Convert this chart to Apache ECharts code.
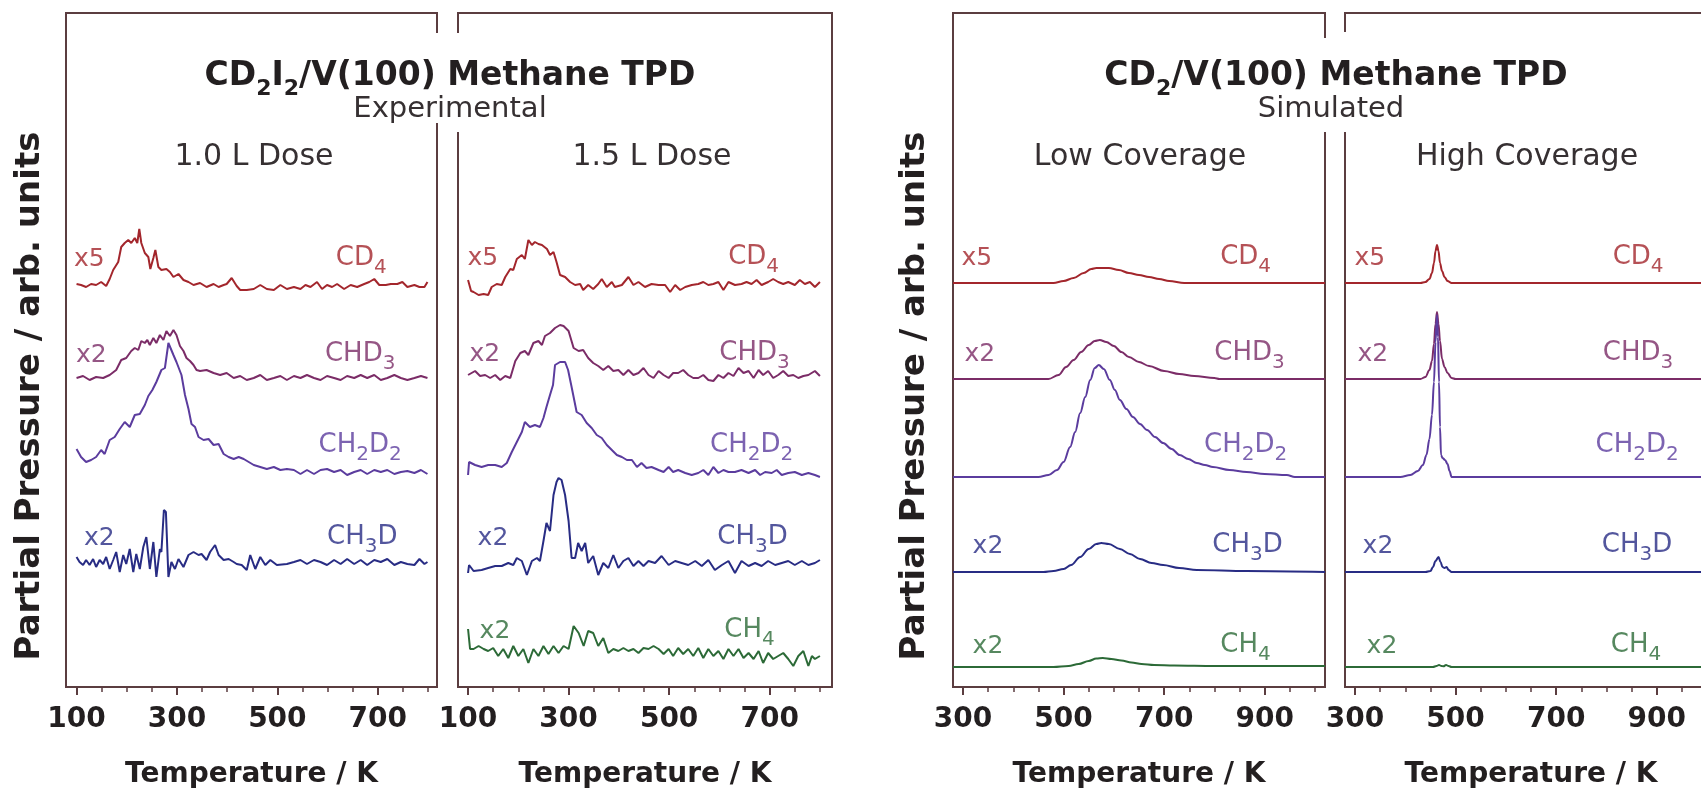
<!DOCTYPE html>
<html>
<head>
<meta charset="utf-8">
<script src="https://cdn.jsdelivr.net/npm/echarts@6/dist/echarts.min.js"></script>
<style>
  html, body { margin: 0; padding: 0; background: #fff; overflow: hidden; }
  #chart { width: 1701px; height: 791px; }
</style>
</head>
<body>
<div id="chart"></div>
<script>
// ---------------- data ----------------
// Species, in stacking order from top to bottom
const SPECIES = ['CD4', 'CHD3', 'CH2D2', 'CH3D', 'CH4'];
const SPECIES_TEXT = ['{m|CD}{s|4}', '{m|CHD}{s|3}', '{m|CH}{s|2}{m|D}{s|2}', '{m|CH}{s|3}{m|D}', '{m|CH}{s|4}'];
const SPECIES_COLORS = ['#a3262c', '#7b2c67', '#5b3c9e', '#282c84', '#2c6a37'];

// Temperature axes (K)
const EXP_LABEL_TICKS = [100, 300, 500, 700];
const EXP_MINOR_TICKS = [100, 150, 200, 250, 300, 350, 400, 450, 500, 550, 600, 650, 700, 750, 800];
const SIM_LABEL_TICKS = [300, 500, 700, 900];
const SIM_MINOR_TICKS = [300, 350, 400, 450, 500, 550, 600, 650, 700, 750, 800, 850, 900, 950, 1000];

// Vertical offsets of each trace (arb. units), per panel: CD4, CHD3, CH2D2, CH3D, CH4
const OFFSETS_1L   = [400, 309, 215, 125, null];
const OFFSETS_15L  = [400, 309, 212, 119, 31];
const OFFSETS_LOW  = [404, 308, 210, 115, 20];
const OFFSETS_HIGH = [404, 308, 210, 115, 20];

// Experimental, 1.0 L dose: [T (K), signal]
const EXP1_CD4 = [[100,3],[109,2],[119,0],[129,3],[139,2],[149,5],[159,1],[166,8],[173,17],[183,25],[189,40],[196,44],[203,47],[209,44],[216,49],[221,44],[225,58],[229,44],[236,34],[243,30],[247,18],[253,29],[257,37],[263,20],[269,17],[279,18],[286,15],[293,10],[303,13],[313,7],[323,5],[333,2],[346,4],[359,0],[373,3],[383,0],[393,2],[399,3],[409,9],[419,1],[426,-3],[439,-3],[453,-2],[466,2],[479,-2],[493,-3],[506,2],[519,-2],[533,0],[546,-2],[556,2],[566,0],[579,5],[589,-2],[599,2],[609,0],[619,3],[633,-2],[646,2],[659,0],[673,3],[683,5],[693,8],[703,2],[716,2],[726,3],[739,3],[749,5],[759,0],[773,2],[783,0],[793,0],[799,5]];
const EXP1_CHD3 = [[100,0],[113,2],[126,-2],[139,1],[153,0],[166,3],[179,8],[189,18],[199,20],[209,27],[216,30],[223,28],[229,37],[236,35],[241,38],[246,33],[253,40],[259,35],[266,43],[273,38],[279,47],[286,42],[293,48],[299,43],[306,32],[313,27],[319,20],[326,17],[333,13],[339,8],[346,7],[359,8],[373,5],[386,3],[399,5],[413,0],[426,2],[439,-2],[453,0],[466,3],[479,-2],[493,0],[506,2],[519,-2],[533,2],[546,0],[559,3],[573,0],[586,-2],[599,2],[613,0],[626,-2],[639,2],[653,0],[666,3],[679,0],[693,3],[706,-2],[719,0],[733,3],[746,0],[759,-2],[773,0],[786,2],[799,0]];
const EXP1_CH2D2 = [[100,23],[109,15],[119,10],[129,12],[139,15],[149,22],[156,18],[166,32],[176,35],[186,43],[196,50],[206,45],[216,57],[226,58],[236,67],[243,76],[251,82],[259,90],[269,102],[276,104],[283,129],[286,130],[293,117],[299,110],[309,97],[316,77],[323,63],[329,48],[336,45],[343,35],[353,32],[363,33],[373,27],[383,28],[393,18],[403,15],[413,13],[423,15],[433,13],[443,10],[453,7],[466,5],[479,3],[493,5],[506,2],[519,3],[533,2],[546,-2],[559,2],[573,-2],[586,2],[599,3],[613,0],[626,2],[639,-3],[653,0],[666,2],[679,-2],[693,2],[706,0],[719,2],[733,-2],[746,0],[759,1],[773,-1],[786,2],[799,-2]];
const EXP1_CH3D = [[100,5],[106,0],[113,-3],[119,2],[126,-3],[133,3],[139,-5],[146,2],[153,-2],[159,5],[166,-7],[173,2],[179,10],[186,-10],[193,7],[199,-2],[206,13],[213,-10],[219,8],[226,-7],[233,15],[239,25],[246,-7],[253,20],[259,-15],[266,13],[269,10],[274,52],[278,50],[283,-15],[289,0],[296,-7],[303,3],[313,-5],[323,7],[333,10],[343,7],[349,8],[359,2],[366,10],[376,17],[383,7],[393,2],[403,3],[413,0],[419,-2],[429,-3],[439,-8],[446,7],[456,-7],[466,5],[476,-3],[486,2],[499,-3],[519,-2],[533,0],[546,2],[559,-2],[573,2],[586,0],[599,-3],[613,2],[626,-2],[639,3],[653,-2],[666,2],[679,-3],[693,2],[706,0],[719,3],[733,-3],[746,0],[759,-2],[773,-3],[783,3],[793,-2],[799,0]];

// Experimental, 1.5 L dose
const EXP15_CD4 = [[100,7],[106,-4],[111,-5],[121,-8],[131,-7],[140,-8],[147,0],[157,3],[167,2],[174,10],[184,18],[190,17],[197,28],[207,32],[213,28],[220,47],[227,42],[233,45],[240,43],[247,42],[257,38],[263,32],[270,35],[276,25],[283,12],[293,10],[303,5],[313,2],[323,3],[329,-3],[339,2],[349,-2],[359,3],[366,8],[376,0],[386,5],[392,0],[406,2],[419,10],[429,2],[439,5],[452,0],[465,3],[479,2],[492,2],[502,-5],[512,2],[522,-3],[532,0],[545,2],[558,3],[568,5],[578,2],[588,3],[598,5],[608,-3],[618,5],[631,2],[644,3],[654,5],[664,3],[674,7],[684,2],[697,5],[707,8],[717,5],[727,3],[737,5],[750,2],[760,7],[770,3],[780,5],[790,0],[800,5]];
const EXP15_CHD3 = [[100,3],[114,7],[124,2],[134,3],[144,0],[154,3],[164,-2],[174,2],[184,0],[194,17],[204,25],[213,27],[220,23],[230,35],[240,37],[247,33],[253,42],[263,45],[273,50],[283,53],[290,52],[300,47],[310,30],[320,27],[329,28],[339,20],[349,15],[359,12],[369,8],[379,12],[389,7],[399,8],[409,3],[419,8],[429,3],[439,5],[449,10],[459,3],[469,0],[479,7],[489,3],[499,0],[508,5],[518,5],[528,8],[538,3],[548,0],[558,0],[568,3],[578,-2],[588,-3],[598,3],[608,0],[618,5],[628,2],[638,10],[648,5],[658,7],[668,0],[678,8],[687,3],[697,7],[707,0],[717,3],[727,7],[737,2],[747,3],[757,0],[767,2],[777,3],[790,7],[800,2]];
const EXP15_CH2D2 = [[100,0],[102,13],[114,10],[127,8],[140,10],[154,10],[167,8],[177,12],[187,23],[197,33],[207,43],[213,53],[223,48],[233,50],[243,48],[250,57],[256,68],[263,80],[269,90],[273,110],[283,113],[293,113],[299,105],[306,88],[316,63],[326,60],[336,52],[346,47],[356,40],[366,37],[376,30],[386,25],[396,20],[406,18],[416,15],[426,15],[436,8],[445,12],[455,7],[465,8],[479,5],[489,3],[499,8],[508,3],[518,5],[532,2],[545,0],[558,2],[568,5],[578,0],[588,8],[598,2],[608,5],[618,3],[631,3],[644,5],[658,2],[671,5],[681,0],[691,3],[704,2],[714,5],[724,0],[737,2],[750,3],[764,0],[777,2],[790,0],[800,-2]];
const EXP15_CH3D = [[100,-5],[102,3],[111,-3],[127,-2],[140,0],[154,2],[167,2],[180,5],[190,3],[197,10],[207,7],[217,-7],[227,7],[237,10],[243,7],[250,27],[256,45],[263,37],[270,73],[276,86],[280,90],[286,88],[293,73],[300,47],[306,10],[313,10],[319,25],[326,17],[333,25],[339,5],[349,12],[359,-7],[369,5],[379,0],[389,13],[399,0],[409,7],[419,10],[429,2],[439,7],[449,2],[459,7],[472,5],[485,12],[499,3],[512,7],[525,5],[538,3],[552,7],[565,2],[578,8],[591,-2],[605,3],[618,7],[631,-5],[644,7],[658,2],[671,5],[684,2],[697,7],[711,3],[724,5],[737,7],[750,3],[764,7],[777,3],[790,5],[800,8]];
const EXP15_CH4 = [[100,27],[104,7],[111,7],[121,10],[131,7],[140,5],[150,8],[160,0],[170,7],[180,-2],[190,10],[200,0],[210,7],[220,-7],[230,7],[240,0],[250,10],[260,2],[270,10],[280,3],[290,10],[300,7],[310,30],[320,23],[330,10],[339,25],[349,23],[359,10],[369,18],[379,3],[389,7],[399,5],[409,8],[419,5],[429,7],[439,3],[449,8],[459,7],[469,10],[479,7],[489,2],[499,7],[508,0],[518,8],[528,2],[538,7],[548,0],[558,8],[568,-2],[578,7],[588,0],[598,5],[608,-3],[618,7],[628,0],[638,7],[648,-2],[658,3],[668,-3],[678,5],[687,-7],[697,3],[707,-3],[717,0],[727,3],[737,-3],[747,-10],[757,0],[767,5],[777,-10],[784,0],[790,-3],[800,0]];

// Simulated, low coverage
const SIM_LOW_CD4 = [[280,0],[480,0],[500,2],[520,5],[540,10],[555,14],[565,15],[590,15],[610,13],[630,10],[650,8],[670,6],[690,4],[710,2],[740,0],[1020,0]];
const SIM_LOW_CHD3 = [[280,0],[470,0],[490,4],[505,12],[520,19],[535,27],[550,34],[562,38],[572,39],[585,37],[600,33],[615,27],[630,22],[650,17],[670,13],[700,8],[730,5],[760,3],[800,1],[810,0],[1020,0]];
const SIM_LOW_CH2D2 = [[280,0],[450,0],[470,2],[487,7],[500,15],[513,30],[523,45],[533,64],[543,80],[553,97],[562,109],[570,112],[580,108],[592,97],[602,87],[612,77],[625,68],[638,60],[652,53],[666,47],[682,40],[698,34],[715,28],[731,22],[748,18],[765,14],[781,12],[797,10],[830,7],[864,5],[900,3],[944,2],[960,0],[1020,0]];
const SIM_LOW_CH3D = [[280,0],[460,0],[480,1],[500,3],[515,7],[533,15],[550,23],[565,28],[575,29],[590,28],[612,23],[632,18],[652,13],[675,9],[698,7],[730,4],[765,2],[864,1],[1020,0]];
const SIM_LOW_CH4 = [[280,0],[480,0],[510,1],[530,3],[550,6],[565,8.5],[578,9],[595,8],[615,6.5],[635,4.5],[655,3],[680,2],[720,1.5],[800,1],[1020,1]];

// Simulated, high coverage
const SIM_HIGH_CD4 = [[280,0],[430,0],[440,1],[448,4],[453,10],[457,20],[460,32],[463,38],[466,32],[469,20],[473,12],[478,6],[484,2],[492,0],[1020,0]];
const SIM_HIGH_CHD3 = [[280,0],[430,0],[440,2],[448,9],[453,18],[457,35],[460,55],[463,67],[466,55],[469,38],[473,20],[478,12],[484,6],[492,1],[500,0],[1020,0]];
const SIM_HIGH_CH2D2 = [[280,0],[390,0],[410,2],[425,6],[435,12],[442,22],[448,38],[453,62],[457,95],[460,135],[463,162],[465,140],[467,95],[469,50],[471,22],[474,19],[479,17],[484,13],[488,6],[492,0],[1020,0]];
const SIM_HIGH_CH3D = [[280,0],[440,0],[450,1],[455,5],[460,11],[466,15],[470,10],[474,5],[478,4],[482,5],[486,2],[492,0],[1020,0]];
const SIM_HIGH_CH4 = [[280,0],[455,0],[462,1],[467,2],[472,1],[476,0.7],[481,2],[486,1],[492,0],[1020,0]];

// Trace annotations: [T (K), baseline height, text, species index, alignment]
const LABELS_1L = [
  [96, 419, '{x|x5}', 0, 'left'], [668, 419, SPECIES_TEXT[0], 0, 'center'],
  [100, 323, '{x|x2}', 1, 'left'], [666, 323, SPECIES_TEXT[1], 1, 'center'],
  [666, 232, SPECIES_TEXT[2], 2, 'center'],
  [116, 140, '{x|x2}', 3, 'left'], [670, 140, SPECIES_TEXT[3], 3, 'center']
];
const LABELS_15L = [
  [100, 420, '{x|x5}', 0, 'left'], [669, 420, SPECIES_TEXT[0], 0, 'center'],
  [104, 324, '{x|x2}', 1, 'left'], [671, 324, SPECIES_TEXT[1], 1, 'center'],
  [665, 232, SPECIES_TEXT[2], 2, 'center'],
  [120, 140, '{x|x2}', 3, 'left'], [667, 140, SPECIES_TEXT[3], 3, 'center'],
  [124, 47, '{x|x2}', 4, 'left'], [661, 47, SPECIES_TEXT[4], 4, 'center']
];
const LABELS_LOW = [
  [298, 420, '{x|x5}', 0, 'left'], [863, 420, SPECIES_TEXT[0], 0, 'center'],
  [304, 324, '{x|x2}', 1, 'left'], [871, 324, SPECIES_TEXT[1], 1, 'center'],
  [863, 232, SPECIES_TEXT[2], 2, 'center'],
  [320, 132, '{x|x2}', 3, 'left'], [867, 132, SPECIES_TEXT[3], 3, 'center'],
  [320, 32, '{x|x2}', 4, 'left'], [863, 32, SPECIES_TEXT[4], 4, 'center']
];
const LABELS_HIGH = [
  [300, 420, '{x|x5}', 0, 'left'], [864, 420, SPECIES_TEXT[0], 0, 'center'],
  [306, 324, '{x|x2}', 1, 'left'], [864, 324, SPECIES_TEXT[1], 1, 'center'],
  [862, 232, SPECIES_TEXT[2], 2, 'center'],
  [316, 132, '{x|x2}', 3, 'left'], [862, 132, SPECIES_TEXT[3], 3, 'center'],
  [324, 32, '{x|x2}', 4, 'left'], [860, 32, SPECIES_TEXT[4], 4, 'center']
];

// ---------------- styling & layout ----------------
const FONT = '"DejaVu Sans", "Liberation Sans", sans-serif';
const INK = '#231f20';
const SOFT_INK = '#363032';
const FRAME = '#5b3d40';
const Y_MAX = 674;
const Y_TITLE = 'Partial Pressure / arb. units';

const PANELS = [
  { traces: [EXP1_CD4, EXP1_CHD3, EXP1_CH2D2, EXP1_CH3D, null], offsets: OFFSETS_1L, labels: LABELS_1L,
    min: 79, max: 818, major: EXP_LABEL_TICKS, minor: EXP_MINOR_TICKS, smooth: false, left: 66, width: 371 },
  { traces: [EXP15_CD4, EXP15_CHD3, EXP15_CH2D2, EXP15_CH3D, EXP15_CH4], offsets: OFFSETS_15L, labels: LABELS_15L,
    min: 80, max: 824, major: EXP_LABEL_TICKS, minor: EXP_MINOR_TICKS, smooth: false, left: 458, width: 374 },
  { traces: [SIM_LOW_CD4, SIM_LOW_CHD3, SIM_LOW_CH2D2, SIM_LOW_CH3D, SIM_LOW_CH4], offsets: OFFSETS_LOW, labels: LABELS_LOW,
    min: 280, max: 1020, major: SIM_LABEL_TICKS, minor: SIM_MINOR_TICKS, smooth: true, left: 953, width: 372 },
  { traces: [SIM_HIGH_CD4, SIM_HIGH_CHD3, SIM_HIGH_CH2D2, SIM_HIGH_CH3D, SIM_HIGH_CH4], offsets: OFFSETS_HIGH, labels: LABELS_HIGH,
    min: 280, max: 1020, major: SIM_LABEL_TICKS, minor: SIM_MINOR_TICKS, smooth: true, left: 1345, width: 372 }
];

// rich-text styles: "m" = main glyphs, "s" = subscript lowered by `drop`, "x" = scale factor tags
function richStyles(F, f, drop, weight, color, colorKey, fx) {
  const pad = Math.round(0.85 * (F - f) + drop);
  const m = { fontFamily: FONT, fontSize: F, lineHeight: F, fontWeight: weight, verticalAlign: 'top' };
  const s = { fontFamily: FONT, fontSize: f, lineHeight: f, fontWeight: weight, verticalAlign: 'top', padding: [pad, 0, 0, 0] };
  const xs = { fontFamily: FONT, fontSize: fx || F, lineHeight: F, fontWeight: weight, verticalAlign: 'top',
    padding: [Math.round(0.85 * (F - (fx || F))), 0, 0, 0] };
  m[colorKey] = color; s[colorKey] = color; xs[colorKey] = color;
  return { m, s, x: xs };
}

const LBL_F = 26, LBL_SUB = 20, LBL_DROP = 7, LBL_X = 25;

const grids = [], xAxes = [], yAxes = [], series = [];
PANELS.forEach((p, i) => {
  grids.push({ left: p.left, top: 13, width: p.width, height: Y_MAX, show: true,
    borderColor: FRAME, borderWidth: 2, backgroundColor: 'transparent', outerBoundsMode: 'none' });

  xAxes.push({
    gridIndex: i, type: 'value', position: 'bottom', min: p.min, max: p.max,
    axisLine: { show: false }, splitLine: { show: false },
    axisTick: { show: true, customValues: p.major, length: 8, lineStyle: { color: FRAME, width: 2 } },
    axisLabel: { show: true, customValues: p.major, margin: 19, fontFamily: FONT, fontSize: 28,
      fontWeight: 'bold', color: INK },
    name: 'Temperature / K', nameLocation: 'middle', nameGap: 74,
    nameTextStyle: { fontFamily: FONT, fontSize: 28, fontWeight: 'bold', color: INK }
  });
  xAxes.push({
    gridIndex: i, type: 'value', position: 'bottom', min: p.min, max: p.max,
    axisLine: { show: false }, splitLine: { show: false }, axisLabel: { show: false },
    axisTick: { show: true, customValues: p.minor, length: 5, lineStyle: { color: FRAME, width: 1.5 } }
  });
  yAxes.push({
    gridIndex: i, type: 'value', min: 0, max: Y_MAX,
    axisLine: { show: false }, axisTick: { show: false }, axisLabel: { show: false }, splitLine: { show: false }
  });

  p.traces.forEach((tr, j) => {
    if (!tr) return;
    const off = p.offsets[j];
    series.push({
      type: 'line', name: SPECIES[j], xAxisIndex: 2 * i, yAxisIndex: i,
      data: tr.map(([t, s]) => [t, off + s]),
      showSymbol: false, symbol: 'none', animation: false, silent: true,
      smooth: p.smooth ? 0.35 : false, smoothMonotone: 'x',
      lineStyle: { color: SPECIES_COLORS[j], width: 2 },
      z: 2 + j
    });
  });

  series.push({
    type: 'scatter', xAxisIndex: 2 * i, yAxisIndex: i, symbolSize: 1, silent: true, animation: false,
    itemStyle: { color: 'transparent' }, z: 20,
    data: p.labels.map(([t, v, text, ci, align]) => ({
      value: [t, v],
      label: {
        show: true, position: [0, 0], align: align, verticalAlign: 'top',
        offset: [0, -Math.round(0.85 * LBL_F)], formatter: text, color: SPECIES_COLORS[ci],
        rich: richStyles(LBL_F, LBL_SUB, LBL_DROP, 'normal', SPECIES_COLORS[ci], 'color', LBL_X)
      }
    }))
  });
});

// headings: [markup, center x, baseline y, size, sub size, drop, weight, color]
const HEADINGS = [
  ['{m|CD}{s|2}{m|I}{s|2}{m|/V(100) Methane TPD}', 450, 88, 33, 22, 9, 'bold', INK],
  ['{m|Experimental}', 450, 120, 29, 17, 0, 'normal', SOFT_INK],
  ['{m|1.0 L Dose}', 254, 168, 30, 17, 0, 'normal', SOFT_INK],
  ['{m|1.5 L Dose}', 652, 168, 30, 17, 0, 'normal', SOFT_INK],
  ['{m|CD}{s|2}{m|/V(100) Methane TPD}', 1336, 88, 33, 22, 9, 'bold', INK],
  ['{m|Simulated}', 1331, 120, 29, 17, 0, 'normal', SOFT_INK],
  ['{m|Low Coverage}', 1140, 168, 30, 17, 0, 'normal', SOFT_INK],
  ['{m|High Coverage}', 1527, 168, 30, 17, 0, 'normal', SOFT_INK]
];

// openings in the frames where the headings run across
const FRAME_GAPS = [[432, 33, 9, 90], [454, 33, 9, 99], [1320, 38, 9, 94], [1340, 32, 9, 100]];

// vertical axis titles: [center x, center y]
const Y_TITLES = [[30, 396], [915, 396]];

const graphics = [];
FRAME_GAPS.forEach(([x, y, w, h]) => graphics.push({
  type: 'rect', z: 10, silent: true, shape: { x, y, width: w, height: h }, style: { fill: '#ffffff' }
}));
HEADINGS.forEach(([txt, cx, base, F, f, drop, weight, color]) => graphics.push({
  type: 'text', z: 30, silent: true, x: cx, y: base - 0.85 * F,
  style: { text: txt, rich: richStyles(F, f, drop, weight, color, 'fill'), fill: color,
    align: 'center', verticalAlign: 'top' }
}));
Y_TITLES.forEach(([cx, cy]) => graphics.push({
  type: 'text', z: 30, silent: true, x: cx, y: cy, rotation: Math.PI / 2,
  style: { text: Y_TITLE, fill: INK, font: 'bold 34px ' + FONT, align: 'center', verticalAlign: 'middle' }
}));

const chart = echarts.init(document.getElementById('chart'), null, { renderer: 'canvas' });
chart.setOption({
  animation: false,
  backgroundColor: '#ffffff',
  grid: grids,
  xAxis: xAxes,
  yAxis: yAxes,
  series: series,
  graphic: graphics
});
</script>
</body>
</html>
